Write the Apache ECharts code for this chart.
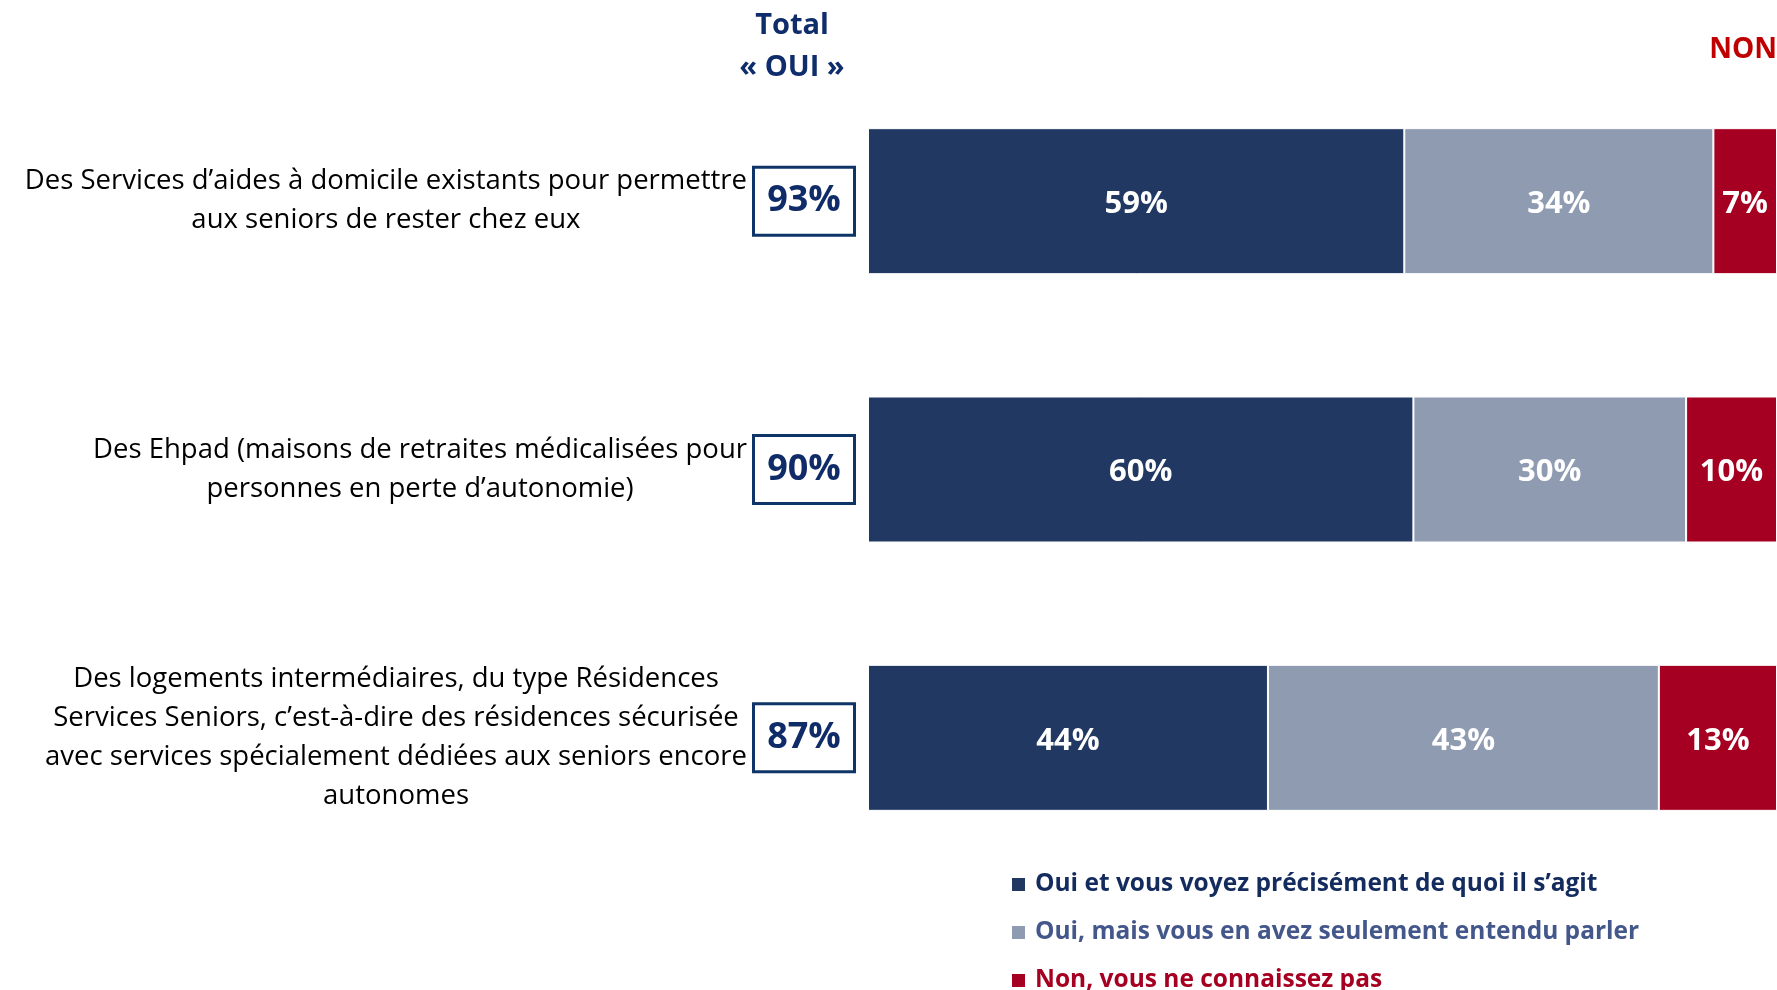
<!DOCTYPE html>
<html>
<head>
<meta charset="utf-8">
<script src="https://cdn.jsdelivr.net/npm/echarts@6/dist/echarts.min.js"></script>
<style>
  html, body { margin: 0; padding: 0; background: #fff; }
  #chart { width: 1777px; height: 990px; }
</style>
</head>
<body>
<div id="chart"></div>
<script>
// categories (line breaks as in the original slide)
const categories = [
  "Des Services d’aides à domicile existants pour permettre\naux seniors de rester chez eux",
  "Des Ehpad (maisons de retraites médicalisées pour\npersonnes en perte d’autonomie)",
  "Des logements intermédiaires, du type Résidences\nServices Seniors, c’est-à-dire des résidences sécurisée\navec services spécialement dédiées aux seniors encore\nautonomes",
];
const seriesNames = [
  "Oui et vous voyez précisément de quoi il s’agit",
  "Oui, mais vous en avez seulement entendu parler",
  "Non, vous ne connaissez pas",
];
const ouiPrecis = [59, 60, 44];
const ouiEntendu = [34, 30, 43];
const non = [7, 10, 13];
const totalOui = [93, 90, 87];

const FONT = "'Open Sans', 'Noto Sans', sans-serif";
const colors = ["#213862", "#8f9bb1", "#a50021"];
const legendText = ["#142b5e", "#44578a", "#a50021"];

const myChart = echarts.init(document.getElementById("chart"));

const makeSeries = (name, data, color) => ({
  name: name,
  type: "bar",
  stack: "total",
  barWidth: 146,
  data: data,
  itemStyle: {
    color: color,
    borderColor: "#fff",
    borderWidth: 1,
  },
  label: {
    show: true,
    position: "inside",
    formatter: "{c}%",
    color: "#fff",
    fontFamily: FONT,
    fontWeight: "bold",
    fontSize: 31,
    offset: [0, 3],
  },
  emphasis: { disabled: true },
});

const option = {
  backgroundColor: "#fff",
  animation: false,
  textStyle: { fontFamily: FONT },
  grid: {
    left: 868,
    right: 0,
    top: 67,
    bottom: 118,
    outerBoundsMode: "none",
  },
  legend: {
    orient: "vertical",
    left: 1010,
    top: 872,
    height: 140,
    padding: 0,
    icon: "rect",
    itemWidth: 15,
    itemHeight: 15,
    itemGap: 23,
    selectedMode: false,
    textStyle: {
      fontFamily: FONT,
      fontWeight: "bold",
      fontSize: 24.5,
      lineHeight: 24,
      padding: [0, 0, 0, 4],
    },
    data: seriesNames.map((n, i) => ({
      name: n,
      textStyle: { color: legendText[i] },
    })),
  },
  xAxis: {
    type: "value",
    min: 0,
    max: 100,
    show: false,
  },
  yAxis: [
    {
      type: "category",
      inverse: true,
      data: categories,
      axisLine: { show: false },
      axisTick: { show: false },
      axisLabel: {
        margin: 121,
        align: "right",
        formatter: (v) =>
          v.split("\n").map((l) => "{l|" + l + "}").join("\n"),
        rich: {
          l: {
            align: "center",
            fontFamily: FONT,
            fontSize: 27.5,
            lineHeight: 39,
            color: "#000",
          },
        },
      },
    },
    {
      type: "category",
      inverse: true,
      position: "left",
      data: categories,
      axisLine: { show: false },
      axisTick: { show: false },
      axisLabel: {
        margin: 15,
        align: "right",
        formatter: (v, i) => "{box|" + totalOui[i] + "%}",
        rich: {
          box: {
            width: 98,
            height: 65,
            lineHeight: 65,
            align: "center",
            verticalAlign: "middle",
            backgroundColor: "#fff",
            borderColor: "#0e3468",
            borderWidth: 3,
            fontFamily: FONT,
            fontWeight: "bold",
            fontSize: 36,
            color: "#0f2b68",
          },
        },
      },
    },
  ],
  graphic: [
    {
      type: "text",
      x: 792,
      y: 26,
      style: {
        text: "Total",
        align: "center",
        verticalAlign: "middle",
        fontFamily: FONT,
        fontWeight: "bold",
        fontSize: 29,
        fill: "#0f2c6b",
      },
    },
    {
      type: "text",
      x: 792,
      y: 68,
      style: {
        text: "« OUI »",
        align: "center",
        verticalAlign: "middle",
        fontFamily: FONT,
        fontWeight: "bold",
        fontSize: 29,
        fill: "#0f2c6b",
      },
    },
    {
      type: "text",
      x: 1777,
      y: 50,
      style: {
        text: "NON",
        align: "right",
        verticalAlign: "middle",
        fontFamily: FONT,
        fontWeight: "bold",
        fontSize: 28,
        fill: "#c00000",
      },
    },
  ],
  series: [
    makeSeries(seriesNames[0], ouiPrecis, colors[0]),
    makeSeries(seriesNames[1], ouiEntendu, colors[1]),
    makeSeries(seriesNames[2], non, colors[2]),
  ],
};

myChart.setOption(option);
</script>
</body>
</html>
